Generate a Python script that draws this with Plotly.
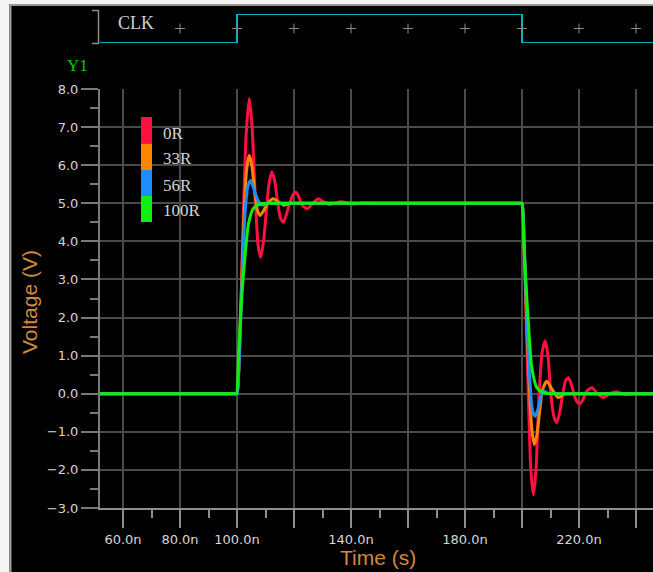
import plotly.graph_objects as go

# ---- data (time in ns, voltage in V) ----
series_names = ["0R", "33R", "56R", "100R"]
series_colors = ["#ff1040", "#ff8400", "#1e8cff", "#10f010"]

t_0R = [40, 90, 99.4, 100.0, 100.6, 101.3, 102.2, 103.2, 104.3, 105.3, 106.5, 107.4, 108.3,
        109.3, 110.3, 111.2, 112.2, 113.2, 114.3, 115.3, 116.3, 117.3, 118.5, 119.6, 120.7,
        121.8, 122.8, 124.7, 126.6, 128.5, 130.5, 132.6, 136.5, 140.5, 144.0, 148.0, 180.0,
        199.4, 200.0, 200.6, 201.3, 202.2, 203.1, 204.0, 204.9, 206.0, 207.1, 208.1, 209.1,
        210.1, 211.2, 212.2, 213.2, 214.3, 215.3, 216.3, 217.3, 218.4, 219.4, 220.4, 221.4,
        222.5, 224.5, 226.5, 228.5, 230.8, 233.2, 236.0, 240.0, 250.0]
v_0R = [0, 0, 0, 0.0, 0.6, 2.2, 4.6, 6.8, 7.75, 7.0, 5.0, 3.9, 3.58,
        4.0, 4.8, 5.5, 5.82, 5.6, 5.0, 4.6, 4.5, 4.7, 5.0, 5.22, 5.29,
        5.15, 4.95, 4.86, 5.0, 5.12, 5.03, 4.97, 5.04, 4.98, 5.01, 5.0, 5.0,
        5.0, 5.0, 4.2, 2.4, 0.0, -2.0, -2.65, -2.0, 0.0, 1.1, 1.39, 1.0,
        0.0, -0.6, -0.76, -0.5, 0.0, 0.35, 0.42, 0.25, -0.05, -0.22, -0.26, -0.15,
        0.05, 0.16, 0.0, -0.1, 0.0, 0.05, -0.02, 0.0, 0.0]

t_33R = [40, 90, 99.4, 100.0, 100.7, 101.5, 102.5, 103.4, 104.3, 105.2, 106.2, 107.2, 108.1,
         109.3, 110.8, 112.7, 114.6, 116.4, 119.0, 122.0, 180.0, 199.4, 200.0, 200.7, 201.5,
         202.5, 203.4, 204.3, 205.2, 206.2, 207.2, 208.7, 210.5, 212.7, 215.0, 218.0, 250.0]
v_33R = [0, 0, 0, 0.0, 0.8, 2.6, 4.8, 5.9, 6.26, 6.0, 5.3, 4.8, 4.68,
         4.8, 5.0, 5.12, 5.03, 4.95, 5.0, 5.0, 5.0, 5.0, 5.0, 4.0, 2.2,
         0.3, -0.9, -1.33, -1.1, -0.45, 0.1, 0.33, 0.12, -0.1, 0.0, 0.0, 0.0]

t_56R = [40, 90, 99.4, 100.0, 100.8, 101.7, 102.7, 103.8, 104.8, 105.8, 107.4, 109.0, 111.0,
         114.0, 180.0, 199.4, 200.0, 200.8, 201.7, 202.7, 203.7, 204.6, 205.6, 206.5, 207.5,
         209.5, 212.0, 250.0]
v_56R = [0, 0, 0, 0.0, 0.9, 2.8, 4.6, 5.45, 5.6, 5.4, 5.07, 4.95, 5.0,
         5.0, 5.0, 5.0, 5.0, 3.9, 2.0, 0.4, -0.45, -0.59, -0.4, -0.1, 0.07,
         0.0, 0.0, 0.0]

t_100R = [40, 90, 99.2, 99.8, 100.5, 101.2, 102.0, 102.8, 104.0, 105.7, 108.0, 112.0, 116.0,
          180.0, 199.4, 200.0, 200.6, 201.3, 202.2, 203.4, 205.2, 207.4, 210.0, 214.0, 250.0]
v_100R = [0, 0, 0, 0.0, 0.9, 2.0, 2.9, 3.6, 4.45, 4.86, 4.98, 5.0, 5.0,
          5.0, 5.0, 5.0, 4.0, 3.0, 1.9, 0.7, 0.16, 0.03, 0.0, 0.0, 0.0]

# clock (digital) trace
clk_t = [40, 100, 100, 200, 200, 250]
clk_v = [0, 0, 1, 1, 0, 0]
clk_marks_t = [80, 100, 120, 140, 160, 180, 200, 220, 240]

x_ticks = [60, 80, 100, 120, 140, 160, 180, 200, 220, 240]
x_ticktext = ["60.0n", "80.0n", "100.0n", "", "140.0n", "", "180.0n", "", "220.0n", ""]
y_ticks = [-3, -2, -1, 0, 1, 2, 3, 4, 5, 6, 7, 8]

# ---- page geometry (pixels) ----
W, H = 653, 572
ML, MR, MT, MB = 100, 0, 6, 64
PW, PH = W - ML - MR, H - MT - MB


def px(x):
    return (x - ML) / PW


def py(y):
    return (H - MB - y) / PH


x_range = [51.93, 245.96]
main_dom = [0, 419 / PH]
clk_dom = [py(43), py(14)]

fig = go.Figure()

t_all = [t_0R, t_33R, t_56R, t_100R]
v_all = [v_0R, v_33R, v_56R, v_100R]
for name, col, tt, vv in zip(series_names, series_colors, t_all, v_all):
    fig.add_trace(go.Scatter(x=tt, y=vv, name=name, mode="lines",
                             line=dict(color=col, width=3, shape="spline", smoothing=0.6),
                             showlegend=False, xaxis="x", yaxis="y"))

fig.add_trace(go.Scatter(x=clk_t, y=clk_v, mode="lines", name="CLK",
                         line=dict(color="#00b4c4", width=2),
                         showlegend=False, xaxis="x2", yaxis="y2"))
fig.add_trace(go.Scatter(x=clk_marks_t, y=[0.5] * len(clk_marks_t), mode="markers",
                         marker=dict(symbol="cross-thin", size=7,
                                     line=dict(color="#8c8c8c", width=1)),
                         showlegend=False, xaxis="x2", yaxis="y2"))

tick_font = dict(family="DejaVu Sans", size=13, color="#d6d6d6")

fig.update_layout(
    width=W, height=H,
    margin=dict(l=ML, r=MR, t=MT, b=MB),
    paper_bgcolor="#000000", plot_bgcolor="#000000",
    xaxis=dict(range=x_range, tickmode="array", tickvals=x_ticks, ticktext=x_ticktext,
               showgrid=True, gridcolor="#4a4a4a", gridwidth=1.5, zeroline=False,
               showline=True, linecolor="#8e8e8e", linewidth=2,
               ticks="outside", ticklen=18, tickwidth=1.5, tickcolor="#8e8e8e",
               minor=dict(tickmode="linear", tick0=0, dtick=10, ticks="outside",
                          ticklen=8, tickwidth=1.5, tickcolor="#8e8e8e", showgrid=False),
               tickfont=tick_font, anchor="y"),
    yaxis=dict(domain=main_dom, range=[-3, 8], tickmode="array", tickvals=y_ticks,
               tickformat=".1f", showgrid=True, gridcolor="#4a4a4a", gridwidth=1.5,
               zeroline=False, showline=True, linecolor="#7a7a7a", linewidth=2,
               ticks="outside", ticklen=17, tickwidth=1.5, tickcolor="#7a7a7a",
               minor=dict(tickmode="linear", tick0=0.5, dtick=1, ticks="outside",
                          ticklen=8, tickwidth=1.5, tickcolor="#7a7a7a", showgrid=False),
               tickfont=tick_font, anchor="x"),
    xaxis2=dict(range=x_range, matches="x", visible=False, anchor="y2"),
    yaxis2=dict(domain=clk_dom, range=[0, 1], visible=False, anchor="x2"),
)

shapes = []
# window frame: light strip and grey edge at top and left
shapes.append(dict(type="rect", xref="paper", yref="paper", x0=px(0), x1=px(9.5),
                   y0=py(H), y1=py(0), fillcolor="#f4f4f4", line=dict(width=0), layer="above"))
shapes.append(dict(type="rect", xref="paper", yref="paper", x0=px(0), x1=px(W),
                   y0=py(4), y1=py(0), fillcolor="#f4f4f4", line=dict(width=0), layer="above"))
shapes.append(dict(type="line", xref="paper", yref="paper", x0=px(10.5), x1=px(10.5),
                   y0=py(H), y1=py(4.5), line=dict(color="#9a9890", width=2), layer="above"))
shapes.append(dict(type="line", xref="paper", yref="paper", x0=px(10), x1=px(W),
                   y0=py(5), y1=py(5), line=dict(color="#9a9890", width=2), layer="above"))
# bracket at the clock strip
for (xa, ya, xb, yb) in [(98.5, 10, 98.5, 44), (92, 10.5, 98.5, 10.5), (92, 43.5, 98.5, 43.5)]:
    shapes.append(dict(type="line", xref="paper", yref="paper", x0=px(xa), x1=px(xb),
                       y0=py(ya), y1=py(yb), line=dict(color="#8c8c8c", width=1.5)))
# legend colour swatches
sw_edges = [117, 143.5, 170, 196, 222]
for i, col in enumerate(series_colors):
    shapes.append(dict(type="rect", xref="paper", yref="paper", x0=px(141), x1=px(152),
                       y0=py(sw_edges[i + 1]), y1=py(sw_edges[i]), fillcolor=col,
                       line=dict(width=0)))
fig.update_layout(shapes=shapes)

ann = []
serif = "Liberation Serif"
lab_y = [133, 159, 185.5, 211]
for name, yy in zip(series_names, lab_y):
    ann.append(dict(x=px(161), y=py(yy), xref="paper", yref="paper", text=name,
                    showarrow=False, xanchor="left", yanchor="middle",
                    font=dict(family=serif, size=17, color="#d4d4d4")))
ann.append(dict(x=px(116), y=py(23.5), xref="paper", yref="paper", text="CLK",
                showarrow=False, xanchor="left", yanchor="middle",
                font=dict(family=serif, size=18, color="#d0d0d0")))
ann.append(dict(x=px(89.5), y=py(65), xref="paper", yref="paper", text="Y1",
                showarrow=False, xanchor="right", yanchor="middle",
                font=dict(family=serif, size=17, color="#00c800")))
ann.append(dict(x=px(378), y=py(557), xref="paper", yref="paper", text="Time (s)",
                showarrow=False, xanchor="center", yanchor="middle",
                font=dict(family="Liberation Sans", size=21, color="#d0883e")))
ann.append(dict(x=px(30), y=py(302), xref="paper", yref="paper", text="Voltage (V)",
                showarrow=False, xanchor="center", yanchor="middle", textangle=-90,
                font=dict(family="Liberation Sans", size=21, color="#d0883e")))
fig.update_layout(annotations=ann)

fig.write_html("out.html")
